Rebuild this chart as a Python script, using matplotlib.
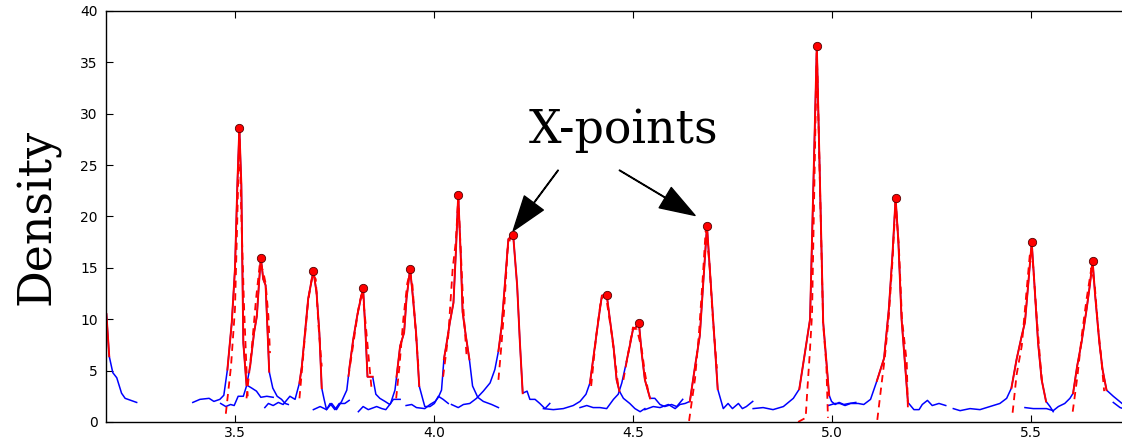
import matplotlib
matplotlib.use("Agg")
import matplotlib.pyplot as plt

# density profiles around each X-point (blue), fitted curves (dashed red)
edge_x = [3.177, 3.184, 3.193, 3.203, 3.215, 3.224, 3.253]
edge_y = [10.5, 6.4, 4.8, 4.3, 2.8, 2.3, 1.9]

tail_x = [5.707, 5.724, 5.740]
tail_y = [1.9, 1.4, 1.2]

p1_x = [3.394, 3.412, 3.435, 3.447, 3.462, 3.472, 3.481, 3.492, 3.500, 3.506, 3.511, 3.516, 3.521, 3.529, 3.542, 3.554, 3.565, 3.580, 3.596]
p1_y = [1.9, 2.2, 2.3, 2.0, 2.2, 2.6, 5.1, 9.7, 14.9, 23.1, 28.6, 23.1, 7.7, 3.6, 3.3, 3.0, 2.4, 2.5, 2.4]
f1_x = [3.477, 3.490, 3.500, 3.506, 3.511, 3.516, 3.523, 3.529, 3.532]
f1_y = [0.8, 5.4, 11.0, 20.0, 28.3, 20.0, 11.0, 5.1, 2.5]

p2_x = [3.464, 3.477, 3.489, 3.498, 3.508, 3.521, 3.529, 3.538, 3.548, 3.555, 3.560, 3.565, 3.571, 3.577, 3.582, 3.586, 3.595, 3.606, 3.617, 3.626, 3.634]
p2_y = [1.8, 1.5, 1.7, 1.6, 2.5, 2.5, 3.5, 5.4, 8.7, 10.3, 13.3, 16.0, 13.9, 13.3, 8.7, 4.9, 3.3, 2.5, 2.2, 1.8, 1.7]
f2_x = [3.529, 3.542, 3.553, 3.563, 3.571, 3.577, 3.584, 3.588]
f2_y = [2.3, 7.1, 12.0, 15.6, 14.6, 13.5, 10.3, 6.7]

p3_x = [3.575, 3.584, 3.596, 3.609, 3.621, 3.638, 3.651, 3.662, 3.668, 3.676, 3.684, 3.697, 3.705, 3.712, 3.718, 3.724, 3.730, 3.739, 3.751, 3.762, 3.776, 3.787]
p3_y = [1.4, 1.8, 1.6, 1.9, 1.7, 2.5, 2.2, 3.8, 5.4, 8.7, 12.0, 14.7, 12.6, 8.7, 3.3, 2.2, 1.2, 1.8, 1.2, 1.8, 1.8, 2.1]
f3_x = [3.662, 3.673, 3.684, 3.695, 3.703, 3.710, 3.718]
f3_y = [2.3, 7.1, 11.8, 14.4, 13.9, 9.3, 5.4]

p4_x = [3.697, 3.714, 3.730, 3.743, 3.755, 3.768, 3.781, 3.787, 3.797, 3.807, 3.816, 3.822, 3.828, 3.833, 3.846, 3.854, 3.864, 3.877, 3.889, 3.898, 3.915]
p4_y = [1.2, 1.5, 1.2, 1.8, 1.2, 2.0, 3.1, 5.1, 8.0, 10.3, 12.0, 13.0, 8.7, 4.4, 4.4, 2.7, 2.3, 2.0, 1.7, 2.2, 2.2]
f4_x = [3.785, 3.797, 3.810, 3.820, 3.828, 3.837, 3.843]
f4_y = [4.4, 7.5, 11.0, 12.8, 9.7, 5.8, 3.3]

p5_x = [3.810, 3.822, 3.835, 3.856, 3.869, 3.879, 3.891, 3.902, 3.906, 3.915, 3.925, 3.931, 3.940, 3.946, 3.955, 3.963, 3.972, 3.977, 3.990, 4.001, 4.011, 4.023, 4.036]
p5_y = [1.0, 1.5, 1.2, 1.5, 1.3, 1.2, 1.8, 3.1, 4.4, 7.4, 8.7, 12.0, 14.9, 12.6, 8.7, 3.5, 2.2, 1.5, 1.5, 1.8, 2.5, 2.2, 1.8]
f5_x = [3.905, 3.913, 3.923, 3.933, 3.940, 3.946, 3.952, 3.961]
f5_y = [2.3, 5.3, 10.0, 13.5, 14.6, 13.3, 10.0, 5.3]

p6_x = [3.930, 3.944, 3.956, 3.977, 3.990, 4.003, 4.011, 4.019, 4.025, 4.032, 4.040, 4.049, 4.055, 4.061, 4.067, 4.072, 4.080, 4.089, 4.097, 4.110, 4.124, 4.145, 4.162]
p6_y = [1.6, 1.7, 1.4, 1.3, 1.7, 2.0, 2.4, 3.1, 6.1, 7.7, 9.7, 11.6, 16.5, 22.1, 16.5, 10.7, 8.4, 6.1, 3.5, 2.4, 2.0, 1.7, 1.4]
f6_x = [4.023, 4.036, 4.047, 4.055, 4.061, 4.067, 4.074, 4.082]
f6_y = [4.4, 8.4, 14.9, 17.6, 21.8, 17.0, 11.0, 6.4]

p7_x = [4.044, 4.061, 4.074, 4.090, 4.107, 4.124, 4.141, 4.153, 4.162, 4.170, 4.178, 4.187, 4.199, 4.209, 4.216, 4.223, 4.234, 4.241, 4.254, 4.266, 4.279, 4.291]
p7_y = [1.7, 1.4, 1.7, 1.8, 2.3, 3.0, 3.8, 5.1, 6.9, 9.3, 13.3, 17.8, 18.2, 13.3, 7.7, 2.8, 3.0, 2.2, 2.2, 1.8, 1.3, 1.8]
f7_x = [4.162, 4.170, 4.176, 4.185, 4.191, 4.199]
f7_y = [4.1, 7.7, 10.7, 16.8, 17.8, 18.0]

p8_x = [4.275, 4.300, 4.325, 4.350, 4.367, 4.382, 4.392, 4.400, 4.409, 4.416, 4.422, 4.434, 4.442, 4.451, 4.459, 4.466, 4.476, 4.492, 4.505, 4.518, 4.530]
p8_y = [1.3, 1.2, 1.3, 1.6, 2.0, 2.7, 3.8, 6.1, 8.7, 10.7, 12.3, 12.4, 10.0, 7.4, 4.1, 3.0, 2.3, 1.8, 1.3, 1.0, 1.3]
f8_x = [4.395, 4.408, 4.420, 4.432, 4.445, 4.455, 4.463]
f8_y = [3.5, 8.5, 12.0, 12.3, 9.0, 6.0, 3.5]

p9_x = [4.367, 4.384, 4.400, 4.417, 4.434, 4.451, 4.463, 4.472, 4.484, 4.492, 4.500, 4.507, 4.515, 4.522, 4.530, 4.543, 4.555, 4.568, 4.580, 4.597, 4.610, 4.625]
p9_y = [1.4, 1.6, 1.4, 1.4, 1.3, 2.2, 2.7, 3.8, 5.9, 7.4, 9.0, 9.2, 9.6, 6.7, 4.1, 2.3, 2.3, 1.7, 1.5, 1.7, 1.5, 2.2]
f9_x = [4.476, 4.490, 4.500, 4.510, 4.522, 4.530, 4.540]
f9_y = [4.1, 7.1, 9.2, 9.0, 7.1, 4.8, 2.6]

p10_x = [4.530, 4.551, 4.568, 4.589, 4.606, 4.618, 4.631, 4.643, 4.656, 4.668, 4.686, 4.713, 4.727, 4.739, 4.750, 4.765, 4.775, 4.785, 4.801]
p10_y = [1.2, 1.5, 1.4, 1.7, 1.3, 1.7, 1.8, 2.0, 5.4, 8.4, 19.1, 3.2, 1.3, 1.8, 1.3, 1.8, 1.3, 1.5, 2.0]
f10_x = [4.641, 4.656, 4.666, 4.675, 4.683, 4.692, 4.701, 4.711]
f10_y = [0.1, 4.2, 8.7, 13.8, 18.8, 15.5, 9.9, 5.2]

p11_x = [4.802, 4.827, 4.852, 4.878, 4.903, 4.918, 4.932, 4.945, 4.962, 4.978, 4.993, 4.999, 5.008, 5.018, 5.030, 5.043, 5.060]
p11_y = [1.3, 1.4, 1.2, 1.5, 2.3, 3.2, 6.7, 10.0, 36.6, 9.7, 2.6, 2.0, 1.7, 1.9, 1.7, 1.8, 1.9]
f11_x = [4.915, 4.934, 4.938, 4.944, 4.950, 4.962, 4.978, 4.986, 4.990]
f11_y = [0.0, 0.4, 3.0, 6.5, 10.5, 36.3, 9.5, 5.5, 0.4]

p12_x = [4.991, 5.008, 5.020, 5.033, 5.047, 5.066, 5.080, 5.097, 5.113, 5.131, 5.143, 5.152, 5.160, 5.167, 5.175, 5.191, 5.206, 5.219, 5.227, 5.240, 5.252, 5.269, 5.286]
p12_y = [1.6, 1.8, 1.8, 1.6, 1.8, 1.8, 1.7, 2.2, 4.0, 6.2, 11.0, 16.2, 21.8, 17.5, 10.0, 1.9, 1.2, 1.2, 1.7, 2.1, 1.6, 1.8, 1.6]
f12_x = [5.114, 5.125, 5.133, 5.143, 5.152, 5.160, 5.168, 5.176, 5.188, 5.191]
f12_y = [0.2, 3.8, 6.3, 10.3, 15.6, 21.4, 17.2, 10.0, 5.8, 1.1]

p13_x = [5.305, 5.322, 5.347, 5.372, 5.397, 5.422, 5.439, 5.451, 5.464, 5.477, 5.485, 5.493, 5.502, 5.508, 5.518, 5.527, 5.538, 5.548, 5.556]
p13_y = [1.3, 1.1, 1.3, 1.2, 1.5, 1.8, 2.3, 3.3, 6.1, 8.4, 9.7, 13.3, 17.5, 13.9, 7.7, 4.1, 2.0, 1.5, 1.0]
f13_x = [5.454, 5.464, 5.477, 5.488, 5.497, 5.505, 5.515, 5.523, 5.529]
f13_y = [0.9, 4.6, 7.4, 12.3, 16.2, 15.5, 10.0, 6.1, 3.5]

p14_x = [5.485, 5.506, 5.523, 5.539, 5.556, 5.569, 5.585, 5.598, 5.606, 5.616, 5.627, 5.640, 5.648, 5.655, 5.661, 5.672, 5.680, 5.690, 5.707, 5.729]
p14_y = [1.4, 1.3, 1.3, 1.3, 1.1, 1.5, 1.8, 2.3, 2.8, 5.4, 7.7, 11.0, 13.3, 15.7, 12.5, 7.7, 5.1, 3.1, 2.5, 1.8]
f14_x = [5.605, 5.617, 5.628, 5.640, 5.652, 5.660, 5.668, 5.676, 5.684]
f14_y = [1.0, 4.5, 8.5, 12.0, 15.0, 13.5, 9.5, 6.5, 3.0]

# index range of each profile that is highlighted in red
red_spans = [(6, 13), (7, 15), (7, 14), (7, 14), (8, 15), (8, 17), (8, 15),
             (6, 15), (8, 15), (7, 11), (5, 10), (8, 15), (7, 16), (8, 17)]

profiles = [(p1_x, p1_y), (p2_x, p2_y), (p3_x, p3_y), (p4_x, p4_y), (p5_x, p5_y),
            (p6_x, p6_y), (p7_x, p7_y), (p8_x, p8_y), (p9_x, p9_y), (p10_x, p10_y),
            (p11_x, p11_y), (p12_x, p12_y), (p13_x, p13_y), (p14_x, p14_y)]
fits = [(f1_x, f1_y), (f2_x, f2_y), (f3_x, f3_y), (f4_x, f4_y), (f5_x, f5_y),
        (f6_x, f6_y), (f7_x, f7_y), (f8_x, f8_y), (f9_x, f9_y), (f10_x, f10_y),
        (f11_x, f11_y), (f12_x, f12_y), (f13_x, f13_y), (f14_x, f14_y)]

fig = plt.figure(figsize=(11.22, 4.40), dpi=100)
ax = fig.add_axes([0.0945, 0.041, 0.913, 0.934])

blue = "#0000ff"
red = "#ff0000"

ax.plot(edge_x, edge_y, color=blue, lw=1.1)
ax.plot(edge_x[:2], edge_y[:2], color=red, lw=1.4)
ax.plot(tail_x, tail_y, color=blue, lw=1.1)

for (x, y) in profiles:
    ax.plot(x, y, color=blue, lw=1.1)
for (x, y) in fits:
    ax.plot(x, y, color=red, lw=1.3, ls=(0, (4, 3)))
for (x, y), (a, b) in zip(profiles, red_spans):
    ax.plot(x[a:b + 1], y[a:b + 1], color=red, lw=1.4)
    k = y.index(max(y))
    ax.plot(x[k], y[k], "o", color=red, mec="#550000", mew=0.6, ms=6, zorder=5)

ax.set_xlim(3.176, 5.75)
ax.set_ylim(0, 40)
ax.set_xticks([3.5, 4.0, 4.5, 5.0, 5.5])
ax.set_yticks(range(0, 41, 5))
ax.tick_params(direction="in", top=True, right=True, labelsize=10, length=5)
ax.tick_params(axis="x", pad=3)
ax.tick_params(axis="y", pad=6)
for s in ax.spines.values():
    s.set_linewidth(1.0)

ax.set_ylabel("Density", family="DejaVu Serif", fontsize=33, labelpad=14)

ax.text(4.477, 28.4, "X-points", family="DejaVu Serif", fontsize=33,
        ha="center", va="center")
arrow = dict(facecolor="black", edgecolor="black", width=0.4, headwidth=17,
             headlength=25, shrink=0.0)
ax.annotate("", xy=(4.199, 18.6), xytext=(4.312, 24.5), arrowprops=arrow)
ax.annotate("", xy=(4.656, 20.1), xytext=(4.466, 24.5), arrowprops=arrow)

fig.savefig("out.png", dpi=100)
